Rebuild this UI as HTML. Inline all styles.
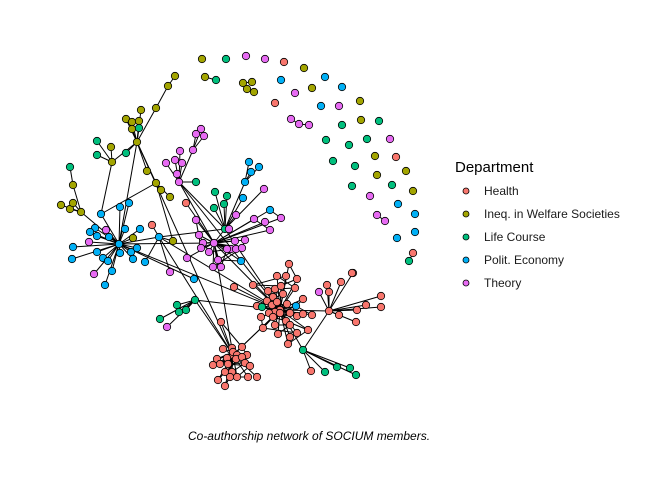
<!DOCTYPE html>
<html><head><meta charset="utf-8">
<style>
html,body{margin:0;padding:0;background:#fff;}
#wrap{position:relative;width:672px;height:480px;overflow:hidden;}
svg text{font-family:"Liberation Sans",Arial,sans-serif;}
</style></head>
<body>
<div id="wrap">
<svg id="chart" width="672" height="480" viewBox="0 0 672 480">
<g id="edges"></g>
<g id="nodes"></g>
<g id="legend">
<text x="455" y="172" font-size="15" fill="#000">Department</text>
</g>
<text x="309" y="440" font-size="12" font-style="italic" text-anchor="middle" fill="#000">Co-authorship network of SOCIUM members.</text>
</svg>
</div>
<script>
const departments = ["Health","Ineq. in Welfare Societies","Life Course","Polit. Economy","Theory"];
const deptColors = ["#F8766D","#A3A500","#00BF7D","#00B0F6","#E76BF3"];
const deptCodes = ["H","I","L","P","T"];
// nodes: [x, y, dept, id, parentId]
const nodes = [
[137,142,"I","A",""],[119,244,"P","B","A2"],[159,237,"P","B2","B"],[179,182,"T","C",""],
[225,229,"L","D","C"],[214,243,"T","D2","D"],[280,310,"H","E","D2"],[233,355,"H","F","E"],
[112,162,"I","G","A"],[81,212,"I","K","B"],[303,350,"L","M","E"],[329,311,"H","R","E"],
[173,241,"I","Q","B2"],[156,183,"I","S","A"],[156,108,"I","O1","A"],[168,86,"I","O2","O1"],
[175,76,"I","","O2"],[141,110,"I","","A"],[126,119,"I","","A"],[132,122,"I","","A"],[139,121,"I","","A"],
[132,129,"I","","A"],[139,128,"L","","A"],[126,153,"L","","A"],[111,147,"I","","G"],[97,141,"L","","G"],
[97,155,"L","","G"],[147,171,"I","","A"],[161,190,"I","","S"],[170,197,"I","","S"],
[70,167,"L","","L1"],[73,185,"I","L1","K"],[61,205,"I","","K"],[70,209,"I","","K"],[73,203,"I","","K"],
[101,214,"P","A2","G"],[95,228,"P","","B"],[90,232,"P","","B"],[97,236,"P","","B"],[109,237,"P","","B"],
[89,242,"T","","B"],[106,230,"T","","B"],[73,247,"P","","B"],[72,259,"P","","B"],[97,252,"P","","B"],
[103,258,"P","","B"],[108,261,"P","","B"],[120,253,"P","","B"],[131,252,"P","","B"],[137,248,"P","","B"],
[133,259,"P","","B"],[112,271,"P","","B"],[94,274,"T","","B"],[105,285,"P","","B"],[125,229,"P","","B"],
[140,229,"P","","B"],[120,207,"P","","B"],[129,203,"P","","B"],[133,238,"I","","B"],[152,225,"H","","B2"],
[145,262,"P","","B2"],[170,272,"T","","B2"],[194,279,"P","","B"],[187,258,"T","","D2"],[186,203,"H","","D2"],
[201,129,"T","","C1"],[196,134,"T","","C1"],[204,136,"T","","C1"],[193,150,"T","C1","C"],[180,151,"T","","C"],
[175,160,"T","","C"],[182,163,"T","","C"],[166,163,"T","","C"],[177,174,"T","","C"],[196,182,"L","","C"],
[215,192,"L","","D"],[227,196,"L","","D"],[224,204,"L","","D"],[214,208,"L","","D"],[249,162,"P","","D1"],
[259,167,"P","","D1"],[251,172,"P","","D1"],[245,182,"P","D1","D"],[243,198,"P","","D"],[264,189,"T","","D"],
[236,215,"T","","D"],[270,210,"P","","D2"],[254,219,"T","","D2"],[265,222,"T","","D2"],[281,218,"T","","D2"],
[270,230,"T","","D2"],[196,220,"T","","D2"],[199,235,"T","","D2"],[203,243,"T","","D2"],[201,248,"T","","D2"],
[209,252,"T","","D2"],[229,229,"T","","D"],[235,241,"T","","D2"],[245,240,"T","","D2"],[231,249,"T","","D2"],
[236,249,"T","","D2"],[242,248,"T","","D2"],[227,249,"T","","D2"],[218,260,"T","","D2"],[213,267,"T","","D2"],
[221,267,"T","","D2"],[241,261,"P","","D2"],
[289,264,"H","","E"],[277,276,"H","","E"],[286,276,"H","","E"],[297,279,"H","","E"],[295,288,"H","","E"],
[253,285,"H","","E"],[268,291,"H","","E"],[275,289,"H","","E"],[281,286,"H","","E"],[283,294,"H","","E"],
[273,297,"H","","E"],[267,301,"H","","E"],[257,306,"H","","E"],[262,307,"L","","E"],[272,305,"H","","E"],
[277,302,"H","","E"],[287,304,"H","","E"],[275,312,"H","","E"],[269,313,"H","","E"],[280,313,"H","","E"],
[290,313,"H","","E"],[297,316,"H","","E"],[296,306,"P","","E"],[303,299,"H","","E"],[303,314,"H","","E"],
[312,315,"H","","E"],[261,317,"H","","E"],[273,317,"H","","E"],[275,325,"H","","E"],[263,328,"H","","E"],
[286,321,"H","","E"],[290,325,"H","","E"],[297,333,"H","","E"],[308,330,"H","","E"],[278,334,"H","","E"],
[290,337,"H","","E"],[288,344,"H","","E"],[311,371,"H","","M"],[325,372,"L","","M"],[337,367,"L","","M"],
[350,368,"L","","M"],[356,375,"L","","M"],
[353,273,"H","","R"],[341,282,"H","","R"],[327,285,"H","","R"],[329,292,"H","","R"],[319,292,"T","","R"],
[339,315,"H","","R"],[357,310,"H","","R"],[366,305,"H","","R"],[356,322,"H","","R"],[381,296,"H","","R"],[381,307,"H","","R"],
[223,349,"H","","F"],[232,348,"H","","F"],[242,347,"H","","F"],[233,352,"H","","F"],[237,355,"H","","F"],
[247,355,"H","","F"],[217,359,"H","","F"],[227,358,"H","","F"],[236,359,"H","","F"],[213,365,"H","","F"],
[220,364,"H","","F"],[228,364,"H","","F"],[242,357,"H","","F"],[245,363,"H","","F"],[250,366,"H","","F"],
[225,372,"H","","F"],[232,372,"H","","F"],[237,377,"H","","F"],[218,380,"H","","F"],[225,386,"H","","F"],
[248,377,"H","","F"],[257,377,"H","","F"],[230,377,"H","","F"],
[234,287,"H","","E"],[221,322,"H","","F"],
[195,300,"L","LC","E"],[177,305,"L","","LC"],[179,312,"L","","LC"],[186,310,"L","","LC"],[160,319,"L","","LC"],[167,327,"T","","LC"],
[202,59,"I","",""],[226,59,"L","",""],[246,56,"T","",""],[265,59,"T","",""],[284,62,"H","",""],[304,68,"I","",""],
[205,77,"I","W1",""],[216,80,"L","","W1"],[243,83,"I","W2",""],[252,82,"I","","W2"],[247,89,"I","","W2"],[254,92,"I","","W2"],
[281,80,"P","",""],[325,77,"P","",""],[342,87,"P","",""],[312,88,"I","",""],[295,93,"T","",""],[275,103,"H","",""],
[321,106,"P","",""],[339,106,"T","",""],[360,101,"I","",""],[291,119,"T","W3",""],[299,124,"T","W4","W3"],[309,125,"T","","W4"],
[342,125,"L","",""],[361,120,"I","",""],[379,121,"L","",""],[326,140,"L","",""],[349,145,"L","",""],[367,139,"L","",""],
[390,139,"T","",""],[333,161,"L","",""],[355,166,"L","",""],[375,156,"I","",""],[396,157,"H","",""],[377,175,"I","",""],
[406,171,"I","",""],[352,186,"L","",""],[392,185,"L","",""],[413,191,"I","",""],[370,196,"T","",""],[398,204,"P","",""],
[415,214,"P","",""],[377,215,"T","W5",""],[385,221,"T","","W5"],[415,232,"P","",""],[397,238,"P","",""],
[413,253,"H","W6",""],[409,261,"L","","W6"],[352,273,"H","",""]
];
// extra links between ids
const extraLinks = [["A","B"],["C","D2"],["B","D2"],["B2","D"],["E","F"],["A","F"],["B2","E"],["D2","F"],["C","E"],["Q","S"],["B","E"],["D","E"],["LC","F"],["B2","F"],["R","M"],["A2","S"]];
// dense clusters: parents whose members also link to neighbours
const denseClusters = ["E","F","D2"];

const ns="http://www.w3.org/2000/svg";
const byId={};
nodes.forEach(n=>{ if(n[3]) byId[n[3]]=n; });
const eg=document.getElementById('edges');
function line(a,b){
  const l=document.createElementNS(ns,'line');
  l.setAttribute('x1',a[0]);l.setAttribute('y1',a[1]);l.setAttribute('x2',b[0]);l.setAttribute('y2',b[1]);
  l.setAttribute('stroke','#000');l.setAttribute('stroke-width','1');
  
  
  eg.appendChild(l);
}
nodes.forEach(n=>{ if(n[4] && byId[n[4]]) line(n, byId[n[4]]); });
extraLinks.forEach(p=>{ if(byId[p[0]]&&byId[p[1]]) line(byId[p[0]],byId[p[1]]); });
denseClusters.forEach(h=>{
  const mem=nodes.filter(n=>n[4]===h);
  mem.forEach((n,i)=>{ const m=mem[(i+3)%mem.length]; if(Math.hypot(m[0]-n[0],m[1]-n[1])<35) line(n,m); });
});
const ng=document.getElementById('nodes');
nodes.forEach(n=>{
  const c=document.createElementNS(ns,'circle');
  c.setAttribute('cx',n[0]);c.setAttribute('cy',n[1]);c.setAttribute('r','3.7');
  c.setAttribute('fill',deptColors[deptCodes.indexOf(n[2])]);
  c.setAttribute('stroke','#000');c.setAttribute('stroke-width','0.8');
  
  
  ng.appendChild(c);
});
const lg=document.getElementById('legend');
departments.forEach((d,i)=>{
  const y=191+i*23;
  const c=document.createElementNS(ns,'circle');
  c.setAttribute('cx',466);c.setAttribute('cy',y);c.setAttribute('r','3');
  c.setAttribute('fill',deptColors[i]);c.setAttribute('stroke','#000');c.setAttribute('stroke-width','0.8');
  
  
  lg.appendChild(c);
  const t=document.createElementNS(ns,'text');
  t.setAttribute('x',484);t.setAttribute('y',y+4);t.setAttribute('font-size','12');t.setAttribute('fill','#1a1a1a');
  t.textContent=d;
  
  
  lg.appendChild(t);
});
</script>
</body></html>
